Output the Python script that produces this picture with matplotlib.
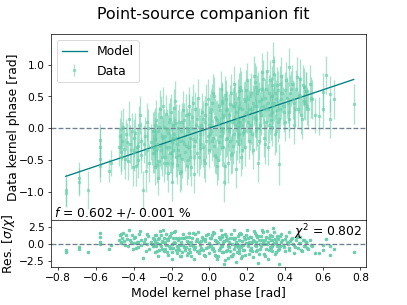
import numpy as np
import matplotlib
matplotlib.use("Agg")
import matplotlib.pyplot as plt

model_kp = [
    -0.76, -0.76, -0.69, -0.69, -0.64, -0.58, -0.58, -0.58, -0.58, -0.53, -0.52,
    -0.48, -0.47, -0.47, -0.46, -0.45, -0.44, -0.43, -0.42, -0.41, -0.40, -0.40, -0.39,
    -0.38, -0.37, -0.36, -0.36, -0.35, -0.34, -0.33, -0.33, -0.32, -0.31, -0.30, -0.30,
    -0.29, -0.29, -0.28, -0.28, -0.27, -0.27, -0.26, -0.26, -0.25, -0.25, -0.24, -0.24,
    -0.23, -0.23, -0.22, -0.22, -0.21, -0.21, -0.20, -0.20, -0.19, -0.19, -0.18, -0.18,
    -0.17, -0.17, -0.16, -0.16, -0.15, -0.15, -0.14, -0.14, -0.13, -0.12, -0.12, -0.11,
    -0.10, -0.10, -0.09, -0.08, -0.08, -0.07, -0.06, -0.05, -0.05, -0.04, -0.03, -0.02,
    0.00, 0.00, 0.01, 0.02, 0.02, 0.03, 0.04, 0.04, 0.05, 0.06, 0.06, 0.07, 0.08, 0.08,
    0.09, 0.09, 0.10, 0.10, 0.11, 0.12, 0.12, 0.13, 0.13, 0.14, 0.14, 0.15, 0.15, 0.16,
    0.16, 0.17, 0.17, 0.18, 0.18, 0.19, 0.19, 0.20, 0.20, 0.03, 0.07, 0.11, 0.05, 0.15,
    0.01, 0.09, 0.13, 0.17,
    0.21, 0.21, 0.22, 0.22, 0.23, 0.23, 0.24, 0.24, 0.25, 0.25, 0.26, 0.26, 0.27, 0.27,
    0.28, 0.28, 0.29, 0.29, 0.30, 0.30, 0.31, 0.31, 0.32, 0.32, 0.33, 0.33, 0.34, 0.34,
    0.35, 0.35, 0.36, 0.36, 0.37, 0.37, 0.38, 0.38,
    0.39, 0.40, 0.40, 0.41, 0.42, 0.42, 0.43, 0.44, 0.45, 0.45, 0.46, 0.47, 0.48, 0.48,
    0.49, 0.50, 0.50, 0.51, 0.52, 0.54,
    0.56, 0.58, 0.60, 0.60, 0.62, 0.64, 0.64, 0.66, 0.765,
    # second pass over the dense part
    -0.475, -0.465, -0.455, -0.445, -0.435, -0.425, -0.415, -0.405, -0.395, -0.385,
    -0.375, -0.365, -0.345, -0.335, -0.325, -0.305,
    -0.295, -0.285, -0.275, -0.265, -0.255, -0.245, -0.235, -0.225, -0.215, -0.205,
    -0.195, -0.185, -0.175, -0.165, -0.155, -0.145, -0.135, -0.125, -0.115, -0.105,
    -0.095, -0.085, -0.075, -0.065, -0.055, -0.045, -0.035, -0.025, -0.015, -0.005,
    -0.295, -0.285, -0.275, -0.265, -0.255, -0.245, -0.235, -0.225, -0.215, -0.205,
    -0.195, -0.185, -0.175, -0.165, -0.155, -0.145, -0.135, -0.125, -0.115, -0.105,
    -0.095, -0.085, -0.075, -0.065, -0.055, -0.045, -0.035, -0.025, -0.015, -0.005,
    0.005, 0.015, 0.025, 0.035, 0.045, 0.055, 0.065, 0.075, 0.085, 0.095,
    0.105, 0.115, 0.125, 0.135, 0.145, 0.155, 0.165, 0.175, 0.185, 0.195,
    0.005, 0.015, 0.025, 0.035, 0.045, 0.055, 0.065, 0.075, 0.085, 0.095,
    0.105, 0.115, 0.125, 0.135, 0.145, 0.155, 0.165, 0.175, 0.185, 0.195,
    0.205, 0.215, 0.225, 0.235, 0.245, 0.255, 0.265, 0.275, 0.285,
    0.295, 0.305, 0.315, 0.325, 0.335, 0.345, 0.355, 0.365, 0.375,
    0.205, 0.215, 0.225, 0.235, 0.245, 0.255, 0.265, 0.275, 0.285,
    0.295, 0.305, 0.315, 0.325, 0.335, 0.345, 0.355, 0.365, 0.375,
    0.385, 0.395, 0.405, 0.415, 0.425, 0.435, 0.445, 0.455, 0.465,
    0.475, 0.485, 0.495, 0.505, 0.515, 0.525, 0.535, 0.545,
]
data_kp = [
    -0.97, -1.02, -0.79, -0.85, -0.98, -0.19, -0.30, -0.49, -0.60, -0.67, -0.55,
    -0.30, -0.02, -0.45, -0.20, -0.33, -0.10, -0.52, -0.25, -0.05, -0.38, -0.15, -0.60,
    -0.28, 0.05, -0.42, -0.20, -0.98, -0.12, -0.35, 0.10, -0.55, -0.22, -0.40, -0.05,
    -0.18, -0.62, 0.12, -0.35, -0.05, -0.78, -0.28, 0.30, -0.45, -0.12, 0.02, -0.55,
    -0.30, 0.22, -0.70, -0.08, -0.40, 0.15, -0.22, -0.85, 0.05, -0.35, -0.15, 0.42,
    -0.58, -0.25, 0.10, -0.42, -0.05, -0.68, 0.28, -0.20, -0.38, 0.00, -0.60, 0.35,
    -0.15, -0.45, 0.18, -0.28, -0.72, 0.05, 0.48, -0.32, -0.10, 0.25, -0.50, 0.10,
    0.05, -0.35, 0.30, -0.15, 0.55, -0.42, 0.12, -0.60, 0.35, -0.05, 0.62, -0.30, -0.85,
    0.20, 0.45, -0.18, 0.00, -0.55, 0.38, 0.10, -0.40, 0.70, -0.10, 0.25, -0.65, 0.48,
    0.02, -0.25, 0.32, 0.60, -0.45, 0.15, -0.08, 0.42, -0.30, 0.22, 0.75, 0.18, 0.40,
    -0.20, -0.22, 0.10, -0.05, 0.28, 0.35, 0.05,
    0.30, -0.20, 0.55, 0.05, -0.35, 0.40, 0.18, 0.72, -0.05, 0.35, 0.60, -0.55, 0.25,
    0.05, 0.88, 0.45, -0.15, 0.30, 0.62, 0.10, 0.40, -0.30, 0.20, 0.75, 0.50, 0.02, 0.35,
    1.05, -0.10, 0.55, 0.28, 0.68, 0.15, -0.57, 0.45, 0.82,
    0.35, 0.60, 0.10, 0.48, 0.96, 0.25, 0.55, 0.70, 0.05, 0.40, 0.62, 0.30, 0.78, 0.50,
    0.15, 0.65, 0.42, 0.58, 0.35, 0.48,
    0.20, 0.19, 0.56, 0.30, 0.83, 0.54, 0.15, 0.45, 0.38,
    # second pass
    -0.12, -0.38, 0.02, -0.48, -0.22, 0.15, -0.35, -0.62, -0.08, -0.30,
    -0.50, 0.20, -0.25, -0.68, 0.00, -0.30,
    -0.40, 0.05, -0.25, -0.52, 0.18, -0.15, -0.45, -0.02, -0.30, 0.25,
    -0.55, -0.10, 0.08, -0.35, -0.20, -0.48, 0.12, -0.28, -0.05, 0.22,
    -0.62, -0.18, 0.30, -0.40, 0.02, -0.25, 0.15, -0.55, 0.38, -0.12,
    -0.05, -0.30, -0.58, 0.02, -0.35, 0.35, -0.12, -0.55, 0.10, -0.40,
    -0.18, 0.32, -0.45, 0.00, -0.70, 0.10, -0.25, 0.20, -0.50, -0.30,
    0.00, 0.40, -0.20, 0.15, -0.45, 0.05, -0.30, 0.20, -0.20, 0.45,
    -0.10, 0.40, -0.28, 0.15, -0.50, 0.28, 0.00, -0.30, 0.52, -0.15,
    0.20, -0.42, 0.35, 0.05, -0.20, 0.58, 0.10, -0.35, 0.45, 0.25,
    0.25, -0.20, 0.50, -0.45, 0.08, -0.12, 0.42, 0.18, -0.60, 0.30,
    -0.05, 0.55, -0.28, 0.40, 0.15, -0.10, 0.65, 0.30, -0.05, 0.60,
    0.10, 0.50, -0.10, 0.35, 0.65, 0.00, 0.42, 0.20, 0.78,
    -0.25, 0.30, 0.55, 0.12, 0.68, 0.40, -0.05, 0.60, 0.30,
    0.45, -0.05, 0.30, 0.82, 0.15, 0.55, -0.20, 0.62, 0.35,
    0.48, 0.90, 0.05, 0.50, 0.25, 0.85, 0.45, 0.10, 0.70,
    0.55, 0.25, 0.75, 0.40, 0.15, 0.62, 0.45, 0.30, 0.80,
    0.52, 0.20, 0.68, 0.40, 0.58, 0.30, 0.70, 0.45,
]
data_err = [
    0.25, 0.22, 0.25, 0.22, 0.30, 0.25, 0.30, 0.28, 0.25, 0.18, 0.20,
    0.30, 0.30, 0.28, 0.30, 0.32, 0.25, 0.30, 0.30, 0.28, 0.30, 0.30, 0.32,
    0.30, 0.30, 0.28, 0.30, 0.30, 0.30, 0.28, 0.30, 0.30, 0.28, 0.30, 0.30,
    0.30, 0.28, 0.32, 0.30, 0.30, 0.28, 0.32, 0.30, 0.30, 0.30, 0.28, 0.30,
    0.32, 0.30, 0.30, 0.28, 0.30, 0.32, 0.30, 0.30, 0.30, 0.28, 0.30, 0.32,
    0.30, 0.30, 0.28, 0.30, 0.32, 0.30, 0.30, 0.28, 0.30, 0.32, 0.30, 0.30,
    0.28, 0.30, 0.32, 0.30, 0.30, 0.28, 0.30, 0.32, 0.30, 0.30, 0.28, 0.30,
    0.30, 0.28, 0.32, 0.30, 0.30, 0.28, 0.32, 0.30, 0.30, 0.30, 0.28, 0.30, 0.32,
    0.30, 0.30, 0.28, 0.30, 0.32, 0.30, 0.30, 0.30, 0.28, 0.30, 0.32, 0.30, 0.30,
    0.28, 0.30, 0.32, 0.30, 0.30, 0.28, 0.30, 0.32, 0.30, 0.30, 0.28, 0.30, 0.32,
    0.30, 0.30, 0.28, 0.30, 0.32, 0.30, 0.30,
    0.30, 0.28, 0.32, 0.30, 0.30, 0.28, 0.32, 0.30, 0.30, 0.30, 0.28, 0.30, 0.32,
    0.30, 0.30, 0.28, 0.30, 0.32, 0.30, 0.30, 0.30, 0.28, 0.30, 0.32, 0.30, 0.30, 0.28,
    0.30, 0.32, 0.30, 0.30, 0.28, 0.30, 0.32, 0.30, 0.30,
    0.30, 0.28, 0.30, 0.32, 0.30, 0.30, 0.28, 0.30, 0.30, 0.32, 0.30, 0.28, 0.30, 0.30,
    0.32, 0.30, 0.28, 0.30, 0.30, 0.32,
    0.28, 0.30, 0.30, 0.32, 0.30, 0.28, 0.30, 0.30, 0.32,
    # second pass
    0.28, 0.30, 0.30, 0.32, 0.30, 0.28, 0.30, 0.30, 0.32, 0.30,
    0.28, 0.30, 0.30, 0.32, 0.30, 0.28,
    0.30, 0.27, 0.31, 0.29, 0.33, 0.30, 0.28, 0.32, 0.30, 0.29,
    0.31, 0.27, 0.30, 0.33, 0.29, 0.30, 0.28, 0.31, 0.30, 0.32,
    0.29, 0.30, 0.27, 0.31, 0.30, 0.33, 0.28, 0.30, 0.31, 0.29,
    0.32, 0.30, 0.28, 0.31, 0.29, 0.30, 0.33, 0.27, 0.30, 0.31,
    0.29, 0.30, 0.32, 0.28, 0.31, 0.30, 0.29, 0.33, 0.30, 0.28,
    0.31, 0.30, 0.29, 0.32, 0.30, 0.27, 0.31, 0.30, 0.28, 0.32,
    0.30, 0.29, 0.31, 0.28, 0.32, 0.30, 0.27, 0.31, 0.30, 0.29,
    0.33, 0.30, 0.28, 0.31, 0.30, 0.29, 0.32, 0.30, 0.28, 0.31,
    0.29, 0.32, 0.30, 0.28, 0.31, 0.30, 0.27, 0.32, 0.30, 0.29,
    0.31, 0.30, 0.28, 0.33, 0.30, 0.29, 0.31, 0.30, 0.28, 0.32,
    0.30, 0.29, 0.31, 0.30, 0.32, 0.28, 0.30, 0.31, 0.29,
    0.32, 0.30, 0.28, 0.31, 0.30, 0.29, 0.33, 0.30, 0.28,
    0.31, 0.30, 0.29, 0.32, 0.30, 0.28, 0.31, 0.30, 0.29,
    0.30, 0.32, 0.28, 0.31, 0.30, 0.29, 0.30, 0.32, 0.28,
    0.30, 0.31, 0.29, 0.32, 0.30, 0.28, 0.31, 0.30, 0.32,
    0.29, 0.30, 0.31, 0.28, 0.30, 0.32, 0.29, 0.31,
]

model_kp = np.array(model_kp)
data_kp = np.array(data_kp)
data_err = np.array(data_err)
resid = (data_kp - model_kp) / data_err

fig = plt.figure(figsize=(6.4, 4.8), dpi=63.6)
gs = fig.add_gridspec(2, 1, height_ratios=[4, 1], hspace=0,
                      left=0.1246, right=0.899, top=0.8875, bottom=0.1256)
ax1 = fig.add_subplot(gs[0])
ax2 = fig.add_subplot(gs[1], sharex=ax1)

fig.text(0.5, 1 - 18.5 / 305, "Point-source companion fit", fontsize=18,
         ha="center", va="baseline")

# top panel
ax1.errorbar(model_kp, data_kp, yerr=data_err, fmt=".", color="mediumaquamarine",
             alpha=0.55, label="Data")
order = np.argsort(model_kp)
ax1.plot(model_kp[order], model_kp[order], color="teal", label="Model")
ax1.axhline(0, ls="--", color="slategray")
ax1.set_ylabel("Data kernel phase [rad]", fontsize=14)
ax1.yaxis.set_label_coords(-0.098, 0.5)
ax1.set_ylim(-1.45, 1.48)
ax1.tick_params(labelsize=12)
ax1.text(0.01, 0.02, "$f$ = 0.602 +/- 0.001 %", transform=ax1.transAxes, fontsize=14)
ax1.legend(loc="upper left", fontsize=14)
plt.setp(ax1.get_xticklabels(), visible=False)

# residuals
ax2.plot(model_kp, resid, ".", color="mediumaquamarine")
ax2.axhline(0, ls="--", color="slategray")
ax2.set_ylim(-3.3, 3.45)
ax2.set_yticks([-2.5, 0.0, 2.5])
ax2.set_xlim(-0.84, 0.83)
ax2.tick_params(labelsize=12)
ax2.set_xlabel("Model kernel phase [rad]", fontsize=14)
ax2.set_ylabel(r"Res. [$\sigma/\chi$]", fontsize=14)
ax2.yaxis.set_label_coords(-0.108, 0.5)
ax2.text(0.99, 0.95, r"$\chi^2$ = 0.802", transform=ax2.transAxes, fontsize=14,
         ha="right", va="top")

fig.savefig("out.png", dpi=63.6)
